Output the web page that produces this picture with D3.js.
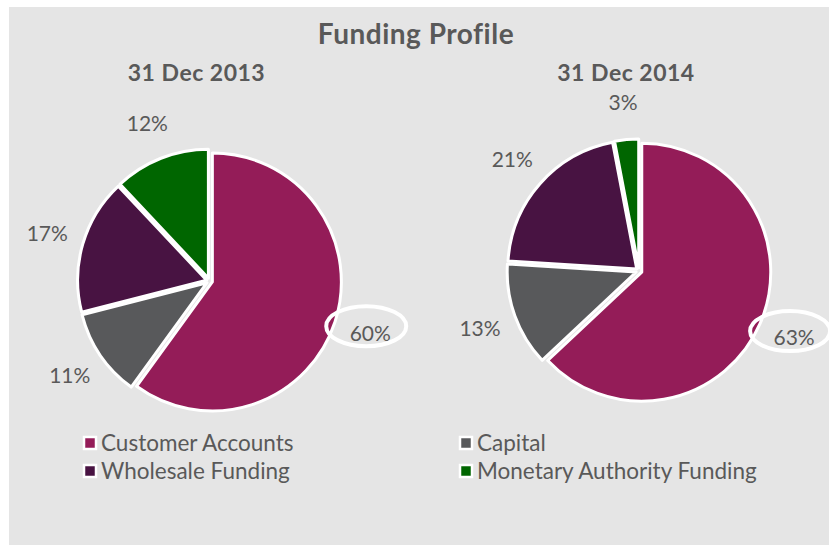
<!DOCTYPE html>
<html>
<head>
<meta charset="utf-8">
<script src="https://cdn.jsdelivr.net/npm/d3@7"></script>
<style>
  html, body { margin: 0; padding: 0; background: #fff; }
  svg { display: block; font-family: Lato, "Open Sans", sans-serif; }
</style>
</head>
<body>
<svg id="chart" width="829" height="545"></svg>
<script>
const categories = ["Customer Accounts", "Capital", "Wholesale Funding", "Monetary Authority Funding"];
const values2013 = [60, 11, 17, 12];
const values2014 = [63, 13, 21, 3];
const dates = ["31 Dec 2013", "31 Dec 2014"];
const colors = ["#941c58", "#58595b", "#481342", "#006600"];

const svg = d3.select("#chart");
const width = +svg.attr("width"), height = +svg.attr("height");
const textColor = "#595959";

svg.append("rect")
  .attr("x", 9).attr("y", 7)
  .attr("width", width - 9).attr("height", height - 7)
  .attr("fill", "#e5e5e5");

svg.append("text")
  .attr("x", 416).attr("y", 44)
  .attr("text-anchor", "middle")
  .attr("font-size", 28).attr("font-weight", "bold")
  .attr("letter-spacing", 0.5)
  .attr("fill", textColor)
  .text("Funding Profile");

const color = d3.scaleOrdinal().domain(categories).range(colors);
const radius = 129;
const explode = 3;

const pie = d3.pie().sort(null).value(d => d.value)
  .startAngle(0).endAngle(2 * Math.PI);
const arc = d3.arc().innerRadius(0).outerRadius(radius);
const labelArc = d3.arc().innerRadius(radius * 1.31).outerRadius(radius * 1.31);

const pies = [
  { date: dates[0], values: values2013, cx: 209.5, cy: 281 },
  { date: dates[1], values: values2014, cx: 639, cy: 271 }
];

pies.forEach(p => {
  const g = svg.append("g").attr("transform", "translate(" + p.cx + "," + p.cy + ")");
  const data = pie(categories.map((c, i) => ({ label: c, value: p.values[i] })));

  svg.append("text")
    .attr("x", p.cx - 13).attr("y", 81)
    .attr("text-anchor", "middle")
    .attr("font-size", 23).attr("font-weight", "bold")
    .attr("letter-spacing", 0.5)
    .attr("fill", textColor)
    .text(p.date);

  g.selectAll(".slice")
    .data(data)
    .enter()
    .append("path")
    .attr("class", "slice")
    .attr("d", arc)
    .attr("transform", d => {
      const mid = (d.startAngle + d.endAngle) / 2;
      return "translate(" + (explode * Math.sin(mid)) + "," + (-explode * Math.cos(mid)) + ")";
    })
    .attr("fill", d => color(d.data.label))
    .attr("stroke", "white")
    .attr("stroke-width", 3)
    .attr("stroke-linejoin", "round");

  const maxVal = d3.max(p.values);

  g.selectAll(".pct")
    .data(data)
    .enter()
    .append("text")
    .attr("class", "pct")
    .attr("transform", d => "translate(" + labelArc.centroid(d) + ")")
    .attr("text-anchor", "middle")
    .attr("dy", "0.35em")
    .attr("font-size", 21)
    .attr("fill", textColor)
    .text(d => d.data.value + "%");

  // highlight ring around the biggest share
  g.selectAll(".ring")
    .data(data.filter(d => d.data.value === maxVal))
    .enter()
    .append("ellipse")
    .attr("class", "ring")
    .attr("cx", d => labelArc.centroid(d)[0] - 4)
    .attr("cy", d => labelArc.centroid(d)[1] - 7)
    .attr("rx", 40).attr("ry", 20)
    .attr("fill", "none")
    .attr("stroke", "white")
    .attr("stroke-width", 4);
});

// legend, two columns
const legend = svg.append("g");
const legendX = d3.scalePoint().domain([0, 1]).range([84, 460]);
const legendY = d3.scalePoint().domain([0, 1]).range([443, 471]);

const items = legend.selectAll(".item")
  .data(categories)
  .enter()
  .append("g")
  .attr("class", "item")
  .attr("transform", (d, i) => "translate(" + legendX(i % 2) + "," + legendY(Math.floor(i / 2)) + ")");

items.append("rect")
  .attr("x", 0).attr("y", -6)
  .attr("width", 12).attr("height", 12)
  .attr("fill", d => color(d))
  .attr("stroke", "white")
  .attr("stroke-width", 2.5);

items.append("text")
  .attr("x", 17).attr("y", 0)
  .attr("dy", "0.35em")
  .attr("font-size", 22.5)
  .attr("fill", textColor)
  .text(d => d);
</script>
</body>
</html>
